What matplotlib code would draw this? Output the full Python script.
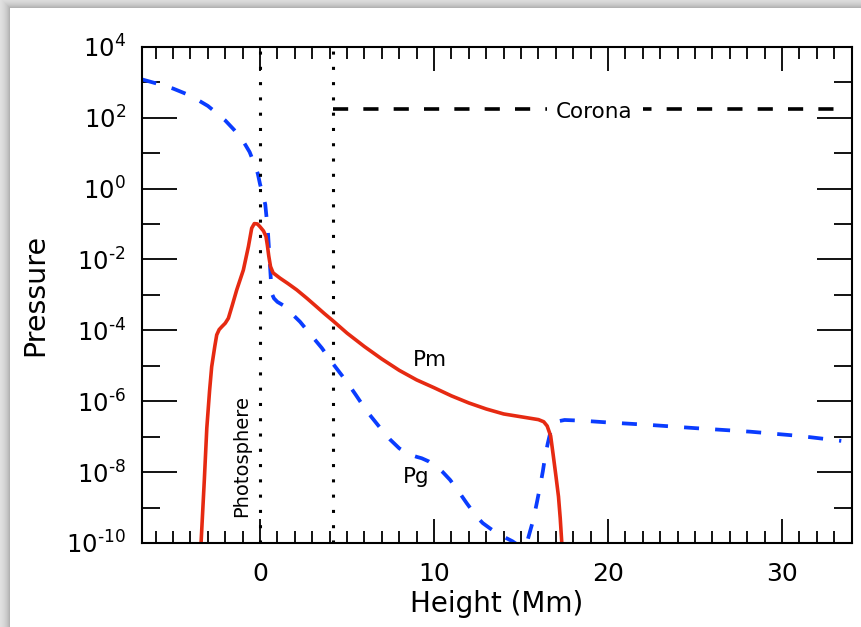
import numpy as np
import matplotlib
matplotlib.use("Agg")
import matplotlib.pyplot as plt
from matplotlib.ticker import FixedLocator, FixedFormatter, NullFormatter

plt.rcParams['font.family'] = ['DejaVu Sans']
plt.rcParams['mathtext.fontset'] = 'dejavusans'

# Gas pressure Pg (height in Mm, log10 pressure)
pg_height = [-6.8, -6.0, -5.0, -4.0, -3.0, -2.5, -2.0, -1.5, -1.0, -0.6, -0.3,
             -0.13, 0.0, 0.15, 0.3, 0.45, 0.55, 0.67, 0.8, 1.0, 1.38, 1.8, 2.3,
             2.87, 3.55, 4.2, 4.98, 5.5, 6.13, 6.9, 7.47, 8.0, 8.52, 9.0, 9.29,
             9.7, 10.15, 10.5, 10.92, 11.4, 11.88, 12.45, 12.8, 13.22, 13.6,
             13.98, 14.5, 14.8, 15.05, 15.33, 15.5, 15.7, 15.9, 16.09, 16.25,
             16.38, 16.53, 16.67, 16.8, 16.9, 17.1, 17.5, 18.5, 20.0, 22.41,
             25.0, 28.16, 31.0, 33.4]
pg_log = [3.08, 2.97, 2.82, 2.62, 2.33, 2.13, 1.92, 1.66, 1.36, 1.03, 0.66,
          0.42, 0.12, -0.15, -0.45, -1.2, -2.0, -2.96, -3.1, -3.2, -3.31, -3.52,
          -3.76, -4.1, -4.5, -4.95, -5.45, -5.82, -6.28, -6.75, -7.08, -7.33,
          -7.49, -7.57, -7.61, -7.7, -7.85, -8.0, -8.22, -8.54, -8.88, -9.26,
          -9.44, -9.59, -9.72, -9.82, -9.95, -10.05, -10.15, -10.0, -9.7,
          -9.35, -8.88, -8.41, -7.98, -7.57, -7.2, -6.91, -6.74, -6.65, -6.57,
          -6.53, -6.55, -6.6, -6.67, -6.76, -6.86, -6.98, -7.12]

# Magnetic pressure Pm
pm_height = [-3.45, -3.39, -3.2, -3.06, -2.9, -2.78, -2.6, -2.49, -2.35, -2.2,
             -2.0, -1.82, -1.6, -1.34, -0.96, -0.67, -0.48, -0.33, -0.15, 0.0,
             0.2, 0.34, 0.42, 0.5, 0.6, 0.75, 1.15, 1.6, 2.11, 2.7, 3.26, 3.7,
             4.21, 5.0, 6.0, 7.0, 8.0, 9.0, 10.0, 11.0, 12.0, 13.0, 14.0, 15.0,
             16.0, 16.3, 16.5, 16.7, 16.86, 17.0, 17.15, 17.25, 17.34, 17.4]
pm_log = [-10.4, -10.0, -8.2, -6.76, -5.7, -5.03, -4.45, -4.13, -3.98, -3.9,
          -3.8, -3.66, -3.3, -2.86, -2.30, -1.64, -1.12, -0.99, -1.0, -1.08,
          -1.2, -1.35, -1.6, -1.9, -2.2, -2.38, -2.53, -2.68, -2.86, -3.1,
          -3.34, -3.53, -3.74, -4.08, -4.46, -4.81, -5.13, -5.40, -5.62, -5.85,
          -6.05, -6.22, -6.36, -6.44, -6.52, -6.58, -6.7, -6.98, -7.57, -8.1,
          -8.69, -9.3, -10.0, -10.3]

# Coronal pressure level
corona_height = [4.2, 33.4]
corona_log = [2.24, 2.24]

# Reference heights: photosphere and base of the corona
photosphere_height = 0.0
corona_base_height = 4.2

xtick_values = [0, 10, 20, 30]
xtick_labels = ['0', '10', '20', '30']
ytick_exponents = [-10, -8, -6, -4, -2, 0, 2, 4]
ytick_minor_exponents = [-9, -7, -5, -3, -1, 1, 3]

W, H = 861, 627
fig = plt.figure(figsize=(W / 100, H / 100), dpi=100)

# card with a soft drop shadow along its top and left edges
bg = fig.add_axes([0, 0, 1, 1], zorder=-10)
bg.axis('off')
yy, xx = np.mgrid[0:H, 0:W]
dx = np.clip(10 - xx, 0, None).astype(float)
dy = np.clip(8 - yy, 0, None).astype(float)
inside = (xx >= 10) & (yy >= 8)
d = np.maximum(dx, dy)
shade = 238 - 70 * np.exp(-d / 6.0)
img = np.where(inside, 255, shade) / 255.0
bg.imshow(np.dstack([img, img, img]), extent=[0, 1, 0, 1], aspect='auto',
          interpolation='bilinear')
bg.set_xlim(0, 1)
bg.set_ylim(0, 1)

ax = fig.add_axes([0.1646, 0.134, 0.8246, 0.7915])
ax.set_yscale('log')
ax.set_xlim(-6.8, 34.0)
ax.set_ylim(1e-10, 1e4)

ax.plot(pg_height, 10.0 ** np.array(pg_log), color='#0a3cff', lw=2.7,
        ls=(0, (4.0, 4.3)), dash_capstyle='butt')
ax.plot(pm_height, 10.0 ** np.array(pm_log), color='#e62a12', lw=2.6,
        solid_joinstyle='round')
ax.plot(corona_height, 10.0 ** np.array(corona_log), color='black', lw=2.6,
        ls=(0, (4.2, 4.2)), dash_capstyle='butt')

for xv in (photosphere_height, corona_base_height):
    ax.axvline(xv, color='black', lw=2.2, ls=(0, (1, 4)), dash_capstyle='butt')

ax.text(19.22, 10 ** 1.98, 'Corona', fontsize=15.5, ha='center', va='baseline',
        bbox=dict(facecolor='white', edgecolor='none', pad=7))
ax.text(9.75, 10 ** -5.0, 'Pm', fontsize=15.5, ha='center', va='baseline')
ax.text(8.96, 10 ** -8.3, 'Pg', fontsize=15.5, ha='center', va='baseline')
ax.text(-1.05, 10 ** -7.55, 'Photosphere', fontsize=14, rotation=90,
        ha='center', va='center')

ax.xaxis.set_major_locator(FixedLocator(xtick_values))
ax.xaxis.set_major_formatter(FixedFormatter(xtick_labels))
ax.xaxis.set_minor_locator(FixedLocator(np.arange(-6, 35, 1)))
ax.yaxis.set_major_locator(FixedLocator([10.0 ** e for e in ytick_exponents]))
ax.yaxis.set_major_formatter(FixedFormatter(
    [r'$\mathregular{10^{%s}}$' % str(e).replace('-', '\u2010')
     for e in ytick_exponents]))
ax.yaxis.set_minor_locator(FixedLocator([10.0 ** e for e in ytick_minor_exponents]))
ax.yaxis.set_minor_formatter(NullFormatter())

ax.tick_params(which='both', direction='in', top=True, right=True, width=1.3)
ax.xaxis.set_tick_params(which='major', length=17.3, labelsize=18, pad=13.5)
ax.xaxis.set_tick_params(which='minor', length=8.4)
ax.yaxis.set_tick_params(which='major', length=25.5, labelsize=17.5, pad=11.5)
ax.yaxis.set_tick_params(which='minor', length=13)
for sp in ax.spines.values():
    sp.set_linewidth(1.5)

ax.set_xlabel('Height (Mm)', fontsize=20, labelpad=3)
ax.set_ylabel('Pressure', fontsize=20.5, labelpad=12)

fig.savefig('out.png', dpi=100)
